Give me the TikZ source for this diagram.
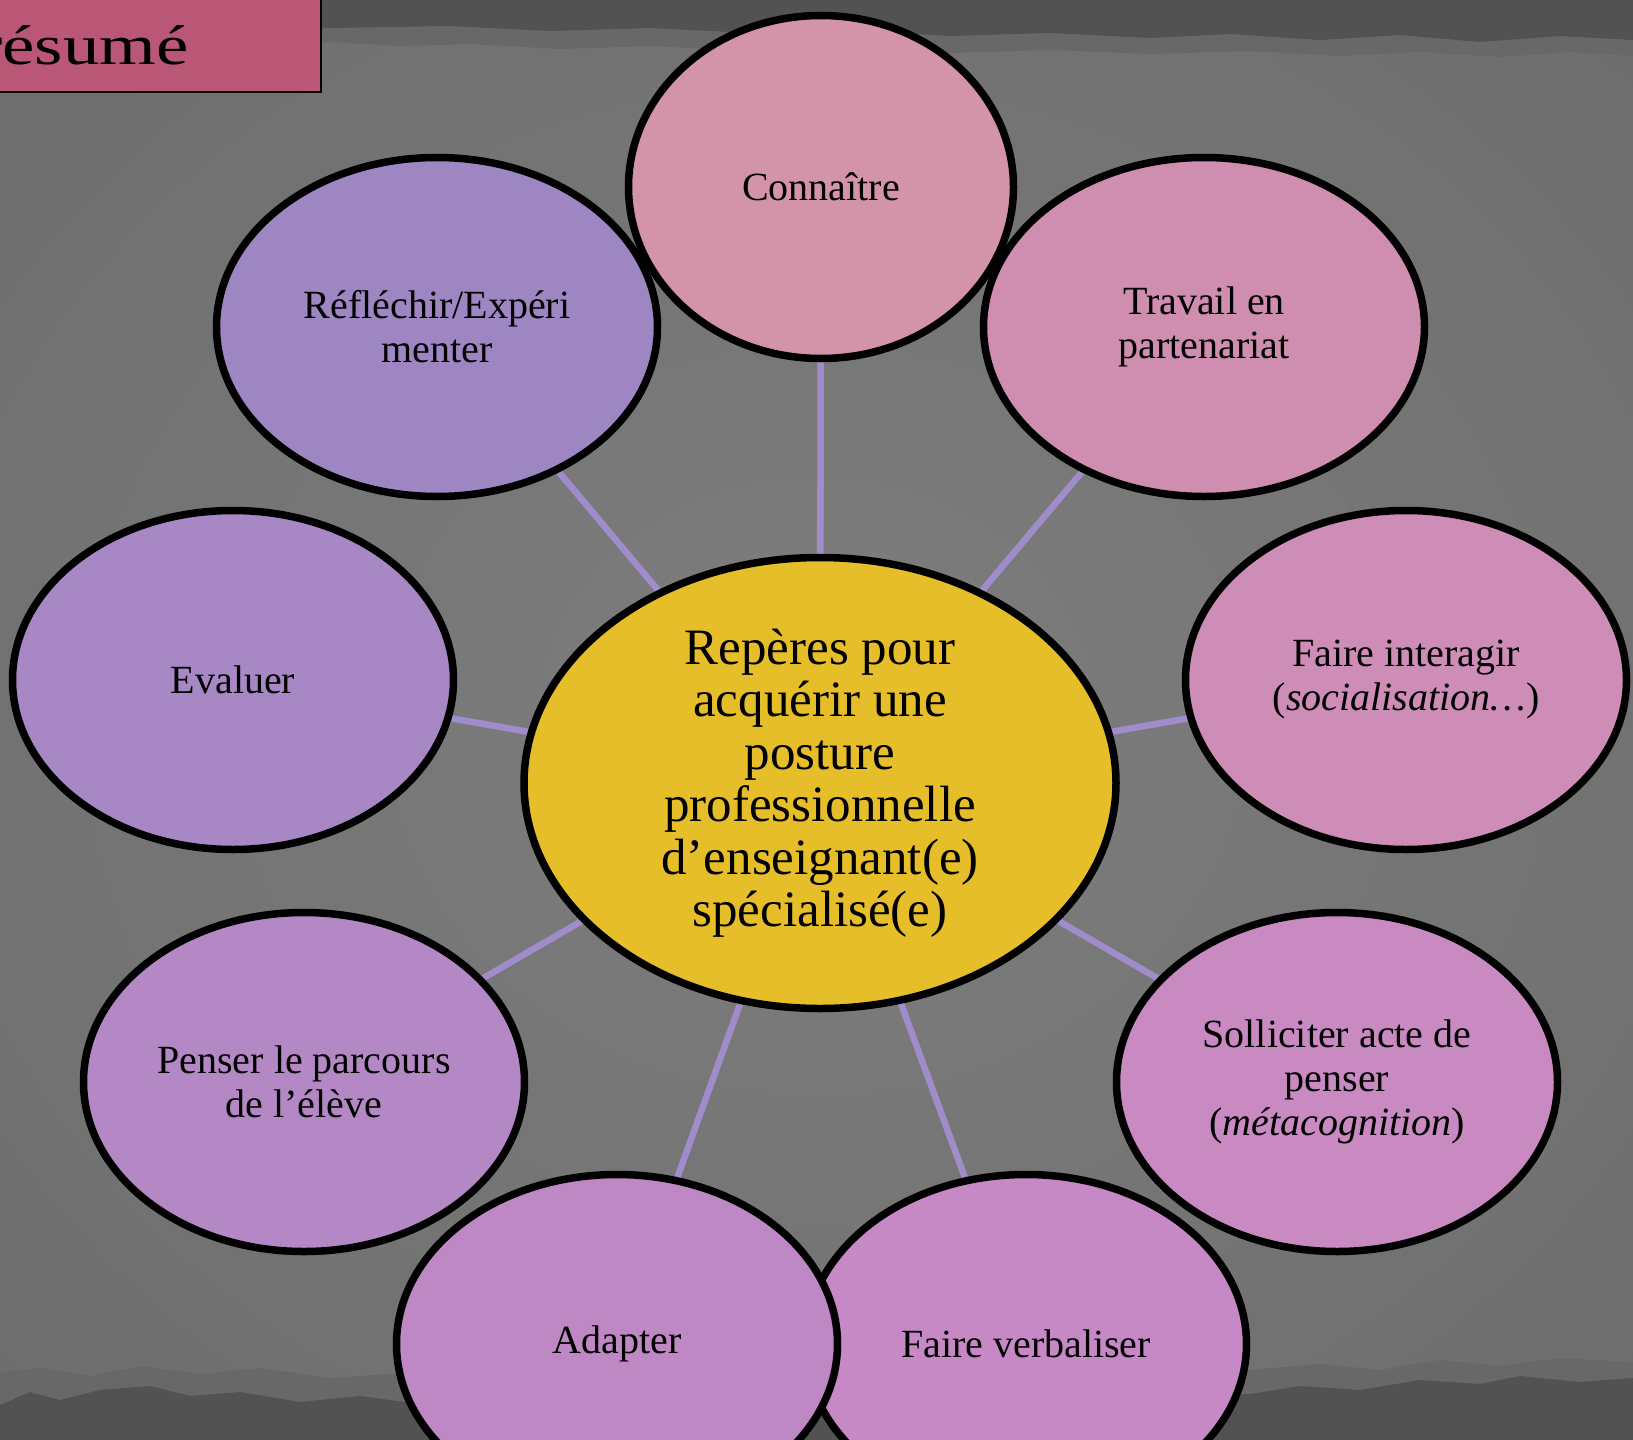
\documentclass[tikz,border=0pt]{standalone}
\usepackage{fontspec}
\setmainfont{Liberation Serif}
\usetikzlibrary{shapes.geometric}
\pgfdeclarelayer{back}
\pgfdeclarelayer{edges}
\pgfsetlayers{back,edges,main}
\definecolor{bggray}{RGB}{126,126,126}
\definecolor{bgedge}{RGB}{104,104,104}
\definecolor{banddark}{RGB}{82,82,82}
\definecolor{bandmid}{RGB}{104,104,104}
\definecolor{titlec}{RGB}{186,86,118}
\definecolor{centerc}{RGB}{230,190,42}
\definecolor{linkc}{RGB}{160,139,203}
\definecolor{cConn}{RGB}{211,148,170}
\definecolor{cTrav}{RGB}{207,142,176}
\definecolor{cInter}{RGB}{205,141,183}
\definecolor{cSoll}{RGB}{200,138,192}
\definecolor{cVerb}{RGB}{198,137,198}
\definecolor{cAdap}{RGB}{190,136,196}
\definecolor{cPens}{RGB}{180,136,196}
\definecolor{cEval}{RGB}{167,135,196}
\definecolor{cRefl}{RGB}{158,134,195}
\tikzset{
  bubble/.style={ellipse, draw=black, line width=7.5pt, inner sep=0pt, align=center,
    text=black, font=\fontsize{40}{44}\selectfont},
  sat/.style={bubble, minimum width=441pt, minimum height=339pt},
  link/.style={draw=linkc, line width=6.5pt},
}
\begin{document}
\begin{tikzpicture}[x=1pt,y=-1pt]
\useasboundingbox (0,0) rectangle (1633,1440);
\clip (0,0) rectangle (1633,1440);
\begin{pgfonlayer}{back}
  \fill[bggray] (0,0) rectangle (1633,1440);
  \shade[inner color=bggray, outer color=bgedge, opacity=0.7] (-300,-250) rectangle (1933,1690);
  % top band
  \fill[bandmid] (0,0) -- (1633,0) -- (1633,56) -- (1570,52) -- (1500,57) -- (1420,52)
    -- (1340,56) -- (1250,51) -- (1150,54) -- (1050,50) -- (950,53) -- (850,48)
    -- (750,51) -- (650,46) -- (560,49) -- (470,44) -- (400,46) -- (330,42) -- (0,42) -- cycle;
  \fill[banddark] (0,0) -- (1633,0) -- (1633,40) -- (1560,36) -- (1480,42) -- (1400,35)
    -- (1320,40) -- (1230,34) -- (1150,38) -- (1050,33) -- (950,36) -- (850,30)
    -- (750,33) -- (650,28) -- (550,31) -- (450,26) -- (330,28) -- (0,28) -- cycle;
  % bottom torn edge
  \fill[bandmid] (0,1440) -- (0,1372) -- (40,1368) -- (90,1376) -- (140,1366) -- (200,1374)
    -- (260,1368) -- (330,1378) -- (420,1372) -- (520,1380) -- (650,1376) -- (800,1382)
    -- (950,1378) -- (1100,1374) -- (1250,1370) -- (1320,1364) -- (1380,1370)
    -- (1440,1360) -- (1500,1366) -- (1560,1358) -- (1633,1362) -- (1633,1440) -- cycle;
  \fill[banddark] (0,1440) -- (0,1405) -- (30,1392) -- (60,1400) -- (100,1390) -- (150,1386)
    -- (190,1396) -- (240,1392) -- (300,1402) -- (360,1396) -- (420,1404) -- (560,1402)
    -- (700,1408) -- (900,1404) -- (1100,1400) -- (1250,1394) -- (1300,1386)
    -- (1360,1390) -- (1420,1380) -- (1480,1384) -- (1520,1376) -- (1580,1382)
    -- (1633,1378) -- (1633,1440) -- cycle;
\end{pgfonlayer}

% title
\draw[fill=titlec, draw=black, line width=2pt] (-10,-10) rectangle (321,92);
\node[anchor=base west, inner sep=0pt, font=\fontsize{56}{60}\selectfont] (title) at (-22,64)
  {\scalebox{1.3}[1]{résumé}};

% central node
\node[bubble, fill=centerc, minimum width=592pt, minimum height=451pt,
      font=\fontsize{51}{52.5}\selectfont] (ctr) at (820,783)
  {Repères pour\\acquérir une\\posture\\professionnelle\\d’enseignant(e)\\spécialisé(e)};

% satellites (drawn clockwise from the top)
\node[bubble, fill=cConn, minimum width=385pt, minimum height=343pt] (conn) at (821,187) {Connaître};
\node[sat, fill=cTrav] (trav) at (1204,327) {Travail en\\partenariat};
\node[sat, fill=cInter] (inter) at (1406,680) {Faire interagir\\(\textit{socialisation…})};
\node[sat, fill=cSoll] (soll) at (1337,1082) {Solliciter acte de\\penser\\(\textit{métacognition})};
\node[sat, fill=cVerb] (verb) at (1026,1344) {Faire verbaliser};
\node[sat, fill=cAdap] (adap) at (617,1344) {Adapter};
\node[sat, fill=cPens] (pens) at (304,1082) {Penser le parcours\\de l’élève};
\node[sat, fill=cEval] (eval) at (233,680) {Evaluer};
\node[sat, fill=cRefl] (refl) at (437,327) {Réfléchir/Expéri\\menter};

\begin{pgfonlayer}{edges}
  \foreach \s in {conn,trav,inter,soll,verb,adap,pens,eval,refl}
    \draw[link] (ctr) -- (\s);
\end{pgfonlayer}
\end{tikzpicture}
\end{document}
